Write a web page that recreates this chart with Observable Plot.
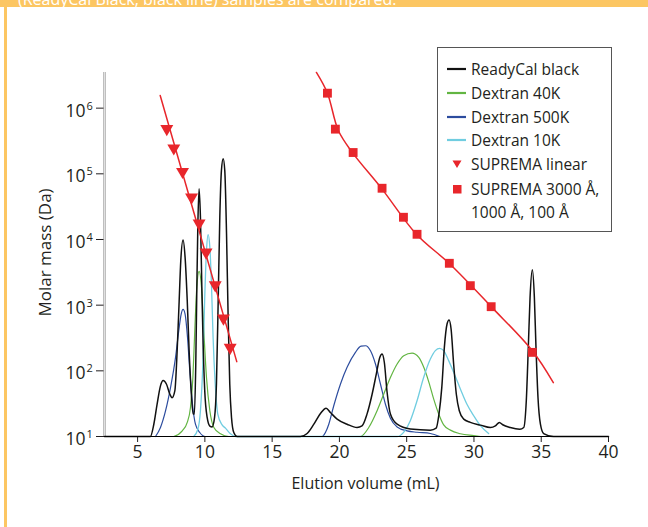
<!DOCTYPE html>
<html><head><meta charset="utf-8">
<script src="https://cdn.jsdelivr.net/npm/d3@7"></script>
<script src="https://cdn.jsdelivr.net/npm/@observablehq/plot@0.6"></script>
<style>
body{margin:0;background:#fff;font-family:"Open Sans",sans-serif;}
#wrap{position:relative;width:648px;height:527px;overflow:hidden;background:#fff;}
#band{position:absolute;left:0;top:0;width:648px;height:7px;background:#fcc662;overflow:hidden;z-index:3;}
#band span{position:absolute;left:18px;top:-9px;font-size:16px;line-height:16px;color:#fff;white-space:nowrap;}
#lb{position:absolute;left:4px;top:0;width:3px;height:527px;background:#fcc662;z-index:3;}
#chart{position:absolute;left:0;top:0;}
#legend{position:absolute;left:437px;top:47px;width:175px;height:185px;border:1px solid #555;box-sizing:border-box;background:#fff;font-size:15.5px;color:#231f20;}
#legend .row{position:absolute;left:0;height:20px;display:flex;align-items:center;white-space:nowrap;}
#legend svg{margin-left:9px;margin-right:4px;}
</style>
</head><body>
<div id="wrap">
  <div id="band"><span>(ReadyCal Black, black line) samples are compared.</span></div>
  <div id="lb"></div>
  <div id="chart"></div>
  <div id="legend"></div>
</div>
<script>
// ---- Data ----
const xTicks = [5, 10, 15, 20, 25, 30, 35, 40];
const yTicks = [1e1, 1e2, 1e3, 1e4, 1e5, 1e6];
const xLabel = "Elution volume (mL)";
const yLabel = "Molar mass (Da)";

// ReadyCal black chromatogram, drawn against the molar-mass axis [elution mL, apparent value]
const readyCal = [
  [2.54,10],[5.95,10],[6.21,15.5],[6.45,31],[6.70,59],[6.90,71],[7.14,63],[7.40,44],[7.56,39],[7.77,50],
  [7.94,202],[8.09,1170],[8.21,4760],[8.38,9840],[8.53,5350],[8.69,1170],[8.83,202],[8.98,50],[9.13,22],
  [9.22,22],[9.32,113],[9.40,1660],[9.48,17300],[9.57,59000],[9.67,21800],[9.77,2100],[9.87,256],[9.99,50],
  [10.17,19.5],[10.37,14.4],[10.54,14],[10.72,19.5],[10.86,63],[10.99,1170],[11.11,21800],[11.23,112000],
  [11.36,169000],[11.48,112000],[11.61,12200],[11.73,652],[11.85,63],[11.98,19.5],[12.15,11.5],[12.40,10],
  [17.10,10],[17.60,11.1],[18.10,15.4],[18.59,22.4],[19.01,27],[19.33,23.2],[19.83,18.4],[20.57,15.4],[21.31,13.7],
  [21.68,14.5],[22.05,21.9],[22.43,44],[22.74,89],[23.00,160],[23.17,180],[23.34,134],[23.54,48],[23.79,22],
  [24.29,15.4],[25.27,13],[26.76,12.5],[27.19,13.4],[27.40,21.9],[27.61,56],[27.80,228],[28.00,516],[28.15,594],
  [28.30,433],[28.49,127],[28.69,44],[28.91,24.7],[29.24,18.4],[29.73,16.4],[30.48,14.9],[31.22,13.7],[31.59,14.5],
  [31.89,16.4],[32.14,15.1],[32.70,13.7],[33.40,12.9],[33.70,13.7],[33.89,35],[34.04,228],[34.17,1315],[34.34,3475],
  [34.49,1315],[34.61,228],[34.76,39],[34.94,15.4],[35.18,11.1],[35.92,10],[40,10]
];
const dextran40K = [
  [7.69,10],[8.32,12.2],[8.69,16.4],[8.93,27.7],[9.11,79],[9.25,408],[9.40,1870],[9.57,3280],[9.75,1870],
  [9.92,408],[10.12,79],[10.37,24.7],[10.67,13.7],[11.16,11],[11.78,10],
  [21.56,10],[22.18,13.7],[22.80,24.7],[23.29,44],[23.79,79],[24.29,127],[24.78,170],[25.40,186],[25.90,160],
  [26.27,113],[26.64,68],[27.01,37],[27.38,22],[27.75,15],[28.25,12.5],[28.99,11],[29.98,10.3],[30.48,10]
];
const dextran500K = [
  [6.33,10],[6.70,13.7],[7.08,24.7],[7.45,56],[7.82,160],[8.06,408],[8.24,733],[8.38,863],[8.53,733],
  [8.71,323],[8.88,100],[9.08,31],[9.30,15.4],[9.62,11.5],[10.04,10],
  [18.71,10],[18.96,11.5],[19.21,15.4],[19.58,29.4],[20.08,63],[20.57,113],[21.19,191],[21.61,238],[21.95,241],
  [22.31,202],[22.68,127],[23.05,63],[23.42,31],[23.79,19],[24.29,14],[25.03,12.2],[25.77,11.6],[26.76,11.1],[27.47,10]
];
const dextran10K = [
  [9.17,10],[9.48,12.9],[9.67,24.7],[9.85,127],[9.99,1315],[10.12,6770],[10.24,11900],[10.37,7600],
  [10.49,2100],[10.61,324],[10.77,63],[10.96,22],[11.28,15],[11.53,13.4],[11.90,11],[12.27,10],
  [24.29,10],[24.83,12],[25.27,17.4],[25.77,35],[26.26,79],[26.76,151],[27.13,203],[27.45,220],[27.75,203],
  [28.12,143],[28.49,95],[28.99,53],[29.48,31],[29.98,20.7],[30.48,14.6],[31.09,11.1]
];
// SUPREMA linear calibration standards and fit line
const supremaLinear = [
  [7.17,4.85e5],[7.69,2.46e5],[8.34,1.08e5],[9.01,4.4e4],[9.57,1.77e4],[10.09,6380],[10.77,2030],[11.38,630],[11.88,227]
];
const supremaLinearFit = [[6.68,1.56e6],[12.37,138]];
// SUPREMA 3000 Å, 1000 Å, 100 Å calibration standards and fit curve
const supremaSet = [
  [19.11,1.69e6],[19.70,4.79e5],[21.02,2.11e5],[23.17,6.03e4],[24.76,2.18e4],[25.77,1.2e4],
  [28.17,4340],[29.73,1980],[31.28,948],[34.34,191]
];
const supremaSetFit = [
  [18.29,3.5e6],[19.11,1.69e6],[19.92,4.56e5],[20.97,2.1e5],[23.13,6.0e4],[25.72,1.2e4],
  [28.17,4300],[31.28,950],[34.34,202],[35.90,66]
];

const colors = {black:"#111", green:"#62b542", blue:"#2c4c9e", cyan:"#70cde0", red:"#e8262b"};
const legendItems = [
  {label:"ReadyCal black", color:colors.black, kind:"line"},
  {label:"Dextran 40K", color:colors.green, kind:"line"},
  {label:"Dextran 500K", color:colors.blue, kind:"line"},
  {label:"Dextran 10K", color:colors.cyan, kind:"line"},
  {label:"SUPREMA linear", color:colors.red, kind:"triangle"},
  {label:"SUPREMA 3000 Å,", color:colors.red, kind:"square"},
  {label:"1000 Å, 100 Å", color:null, kind:"none"}
];

const xDomain = [2.54, 40];
const line = (data, color, w) => Plot.line(data, {x: d => d[0], y: d => d[1], stroke: color, strokeWidth: w, curve: "monotone-x"});

const chart = Plot.plot({
  width: 648, height: 527,
  marginLeft: 104, marginRight: 40, marginTop: 72, marginBottom: 91,
  style: {fontFamily: "Open Sans, sans-serif", fontSize: "16px", color: "#231f20", background: "transparent", overflow: "visible"},
  x: {domain: xDomain},
  y: {type: "log", domain: [10, 3.49e6]},
  marks: [
    Plot.axisX({ticks: xTicks, tickSize: 6, tickPadding: 3, fontSize: 17.5, label: null}),
    Plot.axisY({ticks: yTicks, tickSize: 8, tickFormat: () => "", label: null}),
    Plot.text(yTicks, {x: xDomain[0], y: d => d, text: () => "10", textAnchor: "end", dx: -19, dy: 3, fontSize: 17.5, fill: "#231f20"}),
    Plot.text(yTicks, {x: xDomain[0], y: d => d, text: d => String(Math.round(Math.log10(d))), textAnchor: "start", dx: -18, dy: -2, fontSize: 11, fill: "#231f20"}),
    Plot.text([xLabel], {frameAnchor: "bottom", lineAnchor: "middle", textAnchor: "middle", dx: 9, dy: 47, fontSize: 16, fill: "#231f20"}),
    Plot.text([yLabel], {frameAnchor: "left", lineAnchor: "middle", textAnchor: "middle", dx: -59, dy: -2, rotate: -90, fontSize: 17, fill: "#231f20"}),
    Plot.ruleX([xDomain[0]], {stroke: "#9a9a9a", strokeWidth: 0.8, dx: -0.8}),
    Plot.ruleX([xDomain[0]], {stroke: "#9a9a9a", strokeWidth: 0.8, dx: 0.8}),
    line(dextran500K, colors.blue, 1.2),
    line(dextran40K, colors.green, 1.2),
    line(dextran10K, colors.cyan, 1.3),
    line(readyCal, colors.black, 1.5),
    Plot.ruleY([10], {stroke: "#000", strokeWidth: 1.2}),
    Plot.line(supremaLinearFit, {x: d => d[0], y: d => d[1], stroke: colors.red, strokeWidth: 1.5}),
    Plot.line(supremaSetFit, {x: d => d[0], y: d => d[1], stroke: colors.red, strokeWidth: 1.5, curve: "catmull-rom"}),
    Plot.dot(supremaLinear, {x: d => d[0], y: d => d[1], symbol: "triangle", rotate: 180, r: 4.8, fill: colors.red, stroke: "none"}),
    Plot.dot(supremaSet, {x: d => d[0], y: d => d[1], symbol: "square", r: 5, fill: colors.red, stroke: "none"})
  ]
});
document.getElementById("chart").appendChild(chart);

// Legend
const lg = document.getElementById("legend");
const rowTops = [11, 35, 59, 82, 106, 131, 154];
legendItems.forEach((it, i) => {
  const row = document.createElement("div");
  row.className = "row";
  row.style.top = rowTops[i] + "px";
  let sw = '<svg width="20" height="12" viewBox="0 0 20 12">';
  if (it.kind === "line") sw += `<line x1="0" x2="19" y1="6" y2="6" stroke="${it.color}" stroke-width="2.2"/>`;
  if (it.kind === "triangle") sw += `<path d="M5.5,2.5 L14.5,2.5 L10,10 Z" fill="${it.color}"/>`;
  if (it.kind === "square") sw += `<rect x="6" y="2" width="8.5" height="8.5" fill="${it.color}"/>`;
  sw += '</svg>';
  row.innerHTML = sw + '<span>' + it.label + '</span>';
  lg.appendChild(row);
});
</script>
</body></html>
